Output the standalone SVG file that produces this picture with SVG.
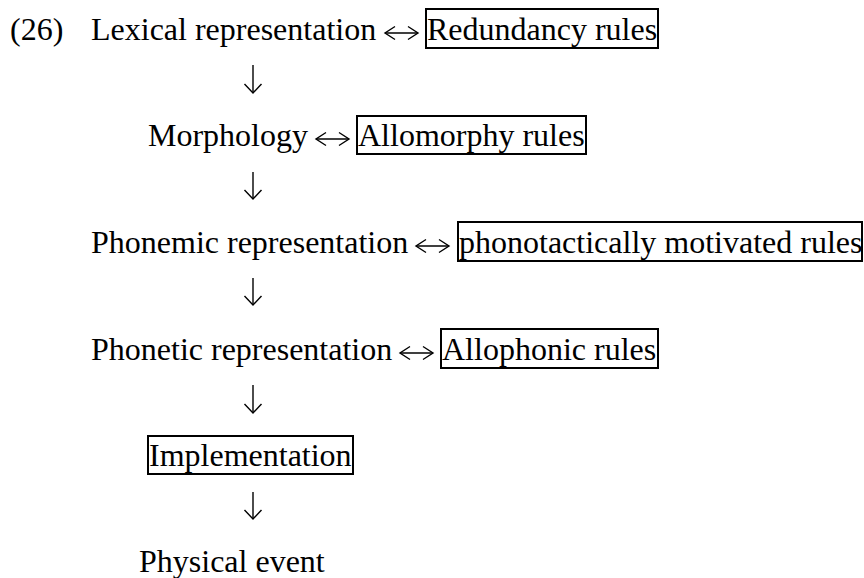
<svg xmlns="http://www.w3.org/2000/svg" width="864" height="578" viewBox="0 0 864 578">
<style>
  text { font-family: "Liberation Serif", "Times New Roman", serif; font-size: 32px; fill: #000; }
  .box { fill: none; stroke: #000; stroke-width: 2; }
  .conn { fill: none; stroke: #000; stroke-width: 1.4; }
  .head { fill: none; stroke: #000; stroke-width: 1.4; stroke-linejoin: miter; }
</style>
<defs>
  <marker id="hv" markerUnits="userSpaceOnUse" viewBox="-12 -11 14 22" markerWidth="14" markerHeight="22" refX="0" refY="0" orient="auto-start-reverse">
    <path class="head" d="M-9,-8.5 L0,0 L-9,8.5"/>
  </marker>
  <marker id="hh" markerUnits="userSpaceOnUse" viewBox="-12 -9 14 18" markerWidth="14" markerHeight="18" refX="0" refY="0" orient="auto-start-reverse">
    <path class="head" d="M-10,-6.5 L0,0 L-10,6.5"/>
  </marker>
</defs>
<rect width="864" height="578" fill="#fff"/>

<g id="example-number"><text x="10" y="40">(26)</text></g>

<g id="lexical"><text x="91" y="40">Lexical representation</text></g>
<g id="redundancy"><rect class="box" x="426" y="9" width="232" height="39"/><text x="427" y="40">Redundancy rules</text></g>

<g id="morphology"><text x="148" y="146">Morphology</text></g>
<g id="allomorphy"><rect class="box" x="357" y="116" width="229" height="38"/><text x="358" y="146">Allomorphy rules</text></g>

<g id="phonemic"><text x="91" y="253">Phonemic representation</text></g>
<g id="phonotactic"><rect class="box" x="458" y="222" width="404" height="39"/><text x="459" y="253">phonotactically motivated rules</text></g>

<g id="phonetic"><text x="91" y="360">Phonetic representation</text></g>
<g id="allophonic"><rect class="box" x="441" y="329" width="217" height="39"/><text x="442" y="360">Allophonic rules</text></g>

<g id="implementation"><rect class="box" x="148" y="436" width="205" height="38"/><text x="149" y="466">Implementation</text></g>

<g id="physical"><text x="139" y="572">Physical event</text></g>

<g id="connectors">
  <path class="conn" d="M385,33 H418" marker-start="url(#hh)" marker-end="url(#hh)"/>
  <path class="conn" d="M316,139 H349" marker-start="url(#hh)" marker-end="url(#hh)"/>
  <path class="conn" d="M416,246 H449" marker-start="url(#hh)" marker-end="url(#hh)"/>
  <path class="conn" d="M400,353 H433" marker-start="url(#hh)" marker-end="url(#hh)"/>
  <path class="conn" d="M253,65 V93" marker-end="url(#hv)"/>
  <path class="conn" d="M253,172 V199" marker-end="url(#hv)"/>
  <path class="conn" d="M253,278 V305" marker-end="url(#hv)"/>
  <path class="conn" d="M253,385 V413" marker-end="url(#hv)"/>
  <path class="conn" d="M253,492 V519" marker-end="url(#hv)"/>
</g>
</svg>
